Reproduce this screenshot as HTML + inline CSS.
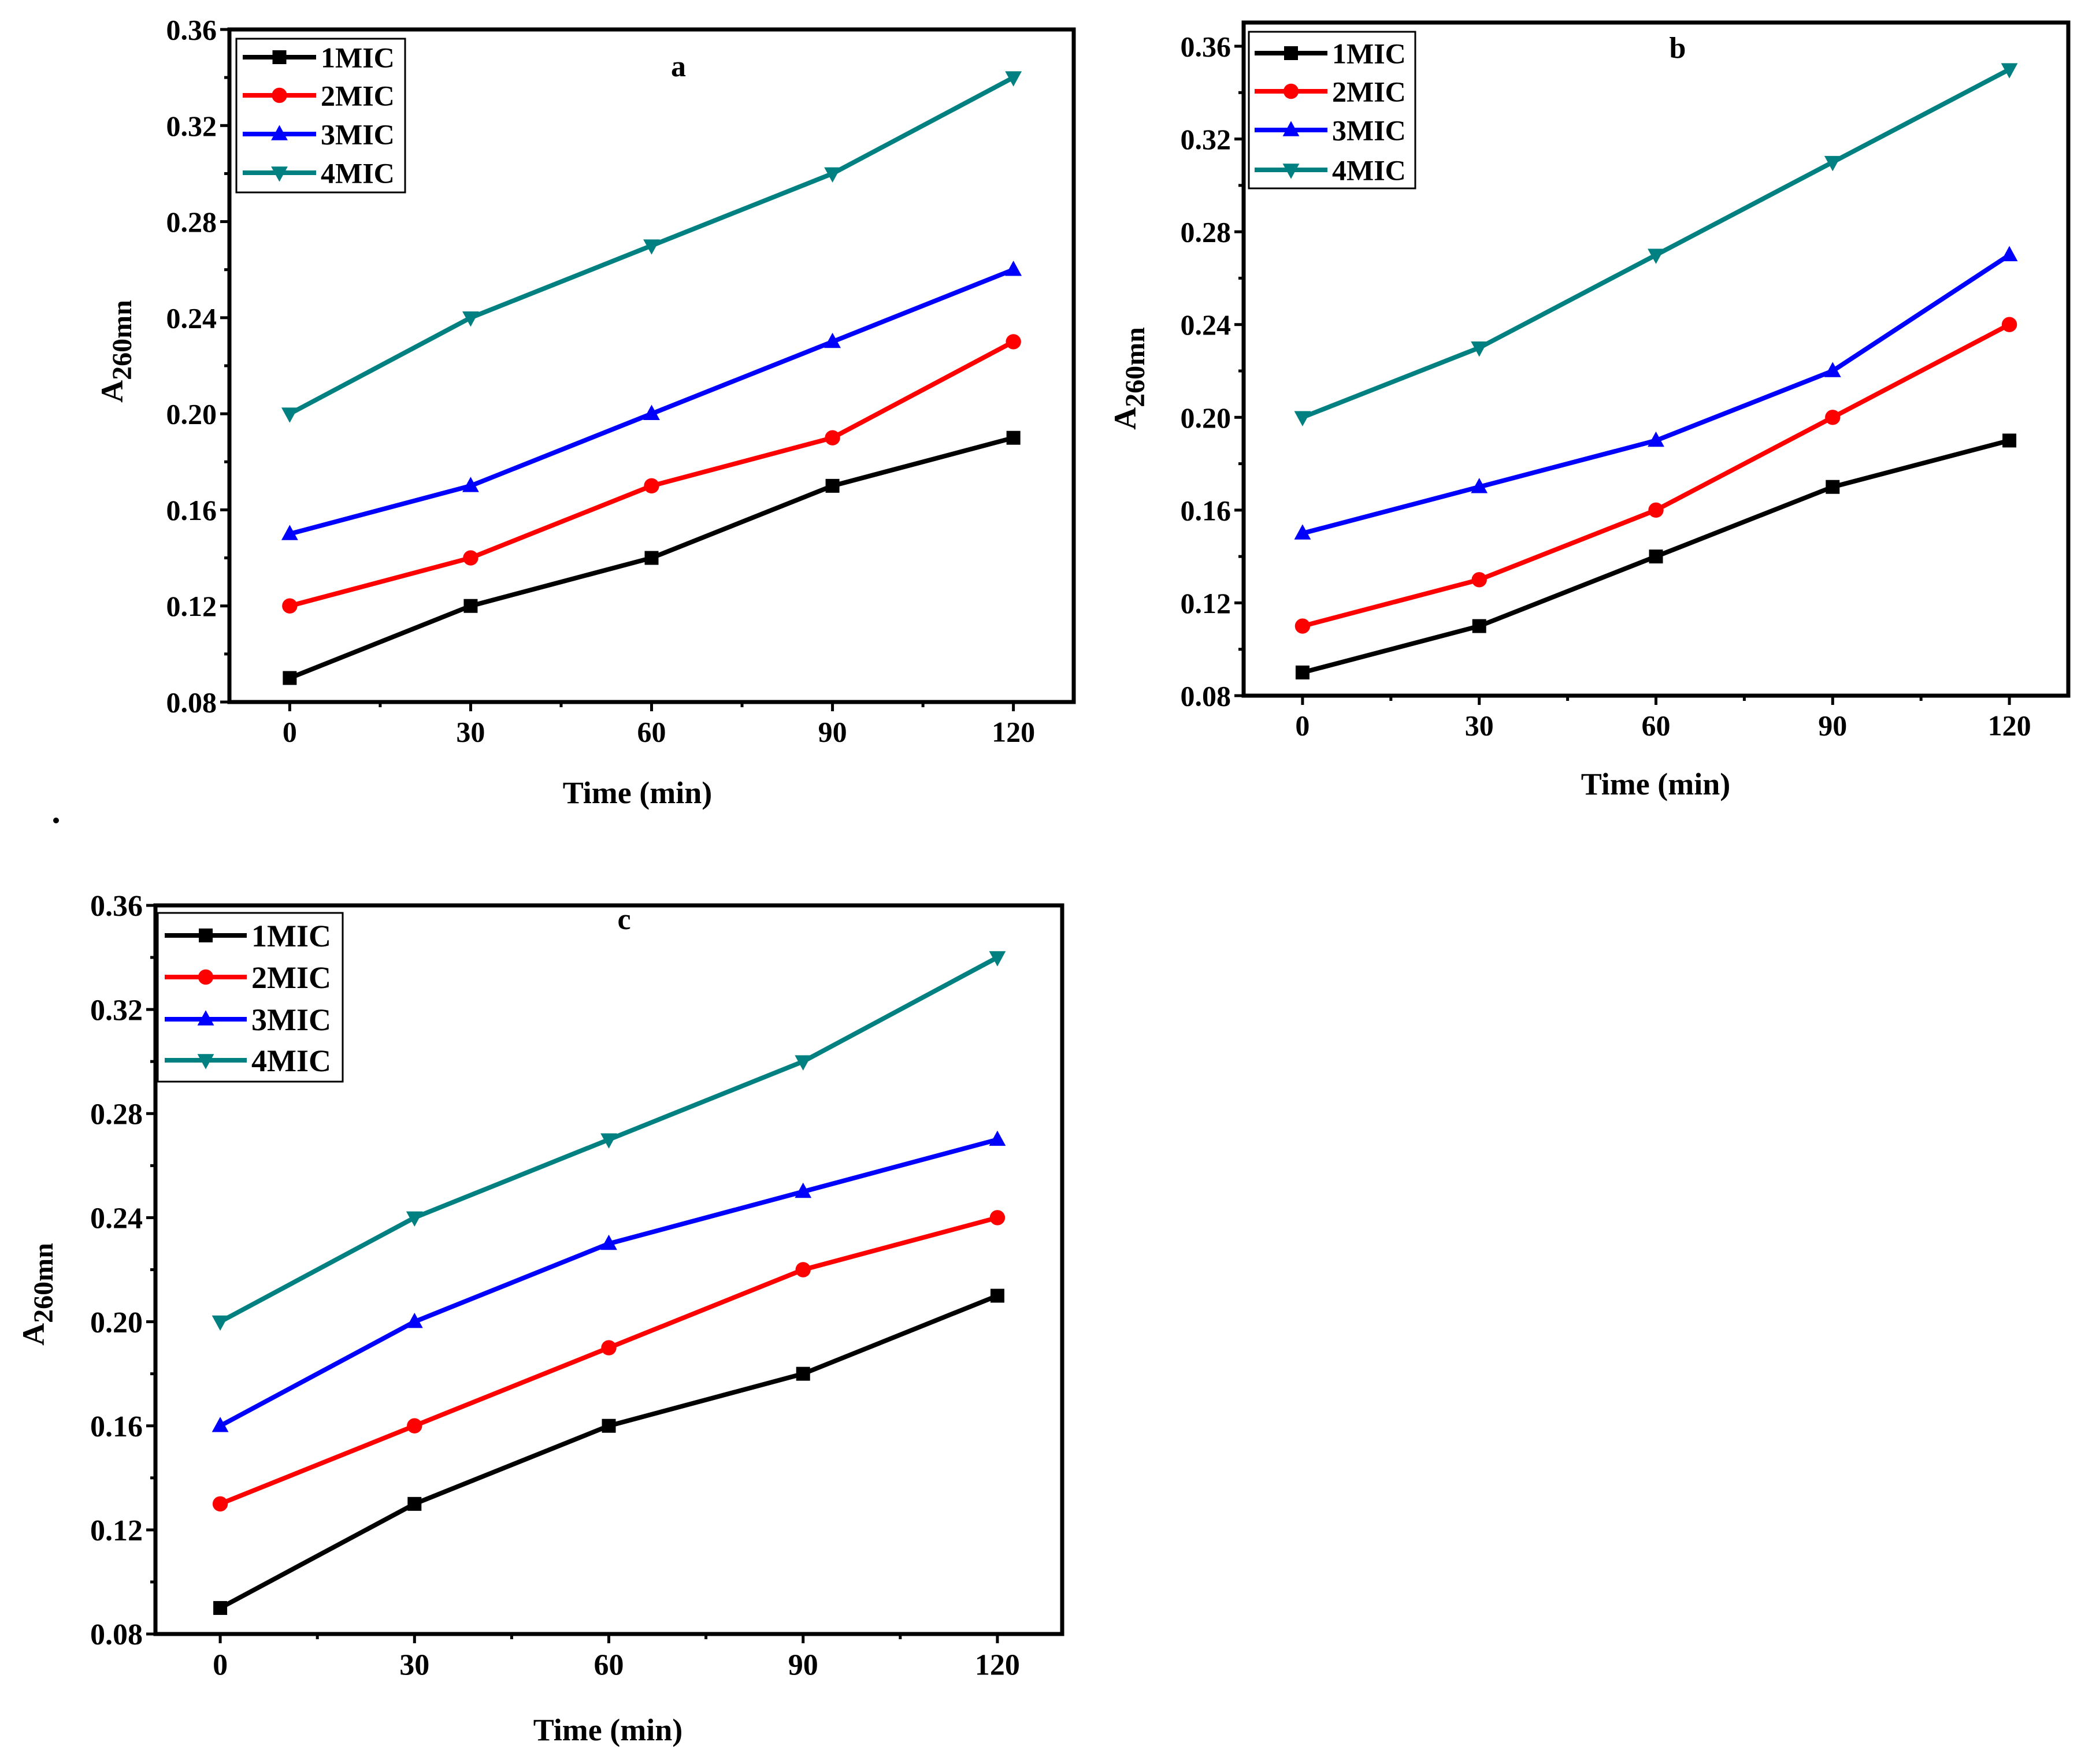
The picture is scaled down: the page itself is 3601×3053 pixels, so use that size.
<!DOCTYPE html>
<html><head><meta charset="utf-8"><style>
html,body{margin:0;padding:0;background:#fff;}
svg{display:block;font-family:"Liberation Serif",serif;font-weight:bold;}
</style></head><body>
<svg id="fig" width="3601" height="3053" viewBox="0 0 3601 3053" xmlns="http://www.w3.org/2000/svg">
<rect width="3601" height="3053" fill="#fff"/>
<circle cx="97" cy="1420" r="5" fill="#000"/>
</svg>
<script>
const times = [0, 30, 60, 90, 120];
const seriesNames = ["1MIC", "2MIC", "3MIC", "4MIC"];
const yTicks = [0.08, 0.12, 0.16, 0.20, 0.24, 0.28, 0.32, 0.36];
const yTickLabels = ["0.08", "0.12", "0.16", "0.20", "0.24", "0.28", "0.32", "0.36"];
const xTickLabels = ["0", "30", "60", "90", "120"];
const aMIC1 = [0.09, 0.12, 0.14, 0.17, 0.19];
const aMIC2 = [0.12, 0.14, 0.17, 0.19, 0.23];
const aMIC3 = [0.15, 0.17, 0.20, 0.23, 0.26];
const aMIC4 = [0.20, 0.24, 0.27, 0.30, 0.34];
const bMIC1 = [0.09, 0.11, 0.14, 0.17, 0.19];
const bMIC2 = [0.11, 0.13, 0.16, 0.20, 0.24];
const bMIC3 = [0.15, 0.17, 0.19, 0.22, 0.27];
const bMIC4 = [0.20, 0.23, 0.27, 0.31, 0.35];
const cMIC1 = [0.09, 0.13, 0.16, 0.18, 0.21];
const cMIC2 = [0.13, 0.16, 0.19, 0.22, 0.24];
const cMIC3 = [0.16, 0.20, 0.23, 0.25, 0.27];
const cMIC4 = [0.20, 0.24, 0.27, 0.30, 0.34];

const colors = ["#000000", "#ff0000", "#0000ff", "#008080"];
const NS = "http://www.w3.org/2000/svg";
const svg = document.getElementById("fig");
function mk(tag, attrs, parent) {
  const e = document.createElementNS(NS, tag);
  for (const k in attrs) e.setAttribute(k, attrs[k]);
  (parent || svg).appendChild(e);
  return e;
}
function marker(g, i, x, y, s) {
  let m;
  if (i === 0) m = mk("rect", {x: x - s, y: y - s, width: 2 * s, height: 2 * s, fill: colors[i]}, g);
  else if (i === 1) m = mk("circle", {cx: x, cy: y, r: s * 1.1, fill: colors[i]}, g);
  else if (i === 2) m = mk("polygon", {points: `${x},${y - s * 1.3} ${x - s * 1.2},${y + s * 0.9} ${x + s * 1.2},${y + s * 0.9}`, fill: colors[i]}, g);
  else m = mk("polygon", {points: `${x},${y + s * 1.3} ${x - s * 1.2},${y - s * 0.9} ${x + s * 1.2},${y - s * 0.9}`, fill: colors[i]}, g);
  
  
}
function panel(P) {
  const g = mk("g", {});
  
  
  const sx = t => P.L + (t - (-10)) / 140 * (P.R - P.L);
  const sy = v => P.B - (v - 0.08) / 0.28 * (P.B - P.YT);
  const tk = mk("g", {stroke: "#000", "stroke-width": 5}, g);
  
  
  yTicks.forEach((v, i) => {
    mk("line", {x1: P.L - 16, x2: P.L, y1: sy(v), y2: sy(v)}, tk);
    if (i < yTicks.length - 1) mk("line", {x1: P.L - 9, x2: P.L, y1: sy(v + 0.02), y2: sy(v + 0.02)}, tk);
    const t = mk("text", {x: P.L - 22, y: sy(v) + P.fs * 0.35, "text-anchor": "end", "font-size": P.fs, fill: "#000", stroke: "none"}, g);
    t.textContent = yTickLabels[i];
    
    
  });
  times.forEach((t0, i) => {
    mk("line", {x1: sx(t0), x2: sx(t0), y1: P.B, y2: P.B + 16}, tk);
    if (i < times.length - 1) mk("line", {x1: sx(t0 + 15), x2: sx(t0 + 15), y1: P.B, y2: P.B + 9}, tk);
    const t = mk("text", {x: sx(t0), y: P.B + 16 + P.fs * 1.05, "text-anchor": "middle", "font-size": P.fs, fill: "#000"}, g);
    t.textContent = xTickLabels[i];
    
    
  });
  P.data.forEach((arr, i) => {
    const sg = mk("g", {}, g);
    
    
    mk("polyline", {points: arr.map((v, j) => sx(times[j]) + "," + sy(v)).join(" "), fill: "none", stroke: colors[i], "stroke-width": 8, "stroke-linejoin": "round"}, sg);
    arr.forEach((v, j) => marker(sg, i, sx(times[j]), sy(v), 12));
  });
  const fr = mk("rect", {x: P.L, y: P.T, width: P.R - P.L, height: P.B - P.T, fill: "none", stroke: "#000", "stroke-width": 7}, g);
  
  
  const lg = mk("g", {}, g);
  
  
  mk("rect", {x: P.lg[0], y: P.lg[1], width: P.lg[2] - P.lg[0], height: P.lg[3] - P.lg[1], fill: "#fff", stroke: "#000", "stroke-width": 3}, lg);
  P.rows.forEach((ry, i) => {
    const le = mk("g", {}, lg);
    
    
    mk("line", {x1: P.ln[0], x2: P.ln[1], y1: ry, y2: ry, stroke: colors[i], "stroke-width": 8}, le);
    marker(le, i, (P.ln[0] + P.ln[1]) / 2, ry, 12);
    const t = mk("text", {x: P.ln[1] + 8, y: ry + P.lfs * 0.35, "font-size": P.lfs, fill: "#000"}, le);
    t.textContent = seriesNames[i];
  });
  const pl = mk("text", {x: P.lab[0], y: P.lab[1], "text-anchor": "middle", "font-size": 52, fill: "#000"}, g);
  pl.textContent = P.id;
  
  
  const xt = mk("text", {x: P.xt[0], y: P.xt[1], "text-anchor": "middle", "font-size": 54, fill: "#000"}, g);
  xt.textContent = "Time (min)";
  
  
  const yt = mk("text", {x: 0, y: 0, "text-anchor": "middle", "font-size": 54, fill: "#000", transform: `translate(${P.yt[0]},${P.yt[1]}) rotate(-90)`}, g);
  yt.innerHTML = 'A<tspan font-size="48" dy="15">260mn</tspan>';
  
  
}
panel({id: "a", L: 397, R: 1858, T: 51, YT: 51, B: 1215, fs: 50, lfs: 50, data: [aMIC1, aMIC2, aMIC3, aMIC4],
  lg: [409, 67, 701, 333], rows: [99, 165, 232, 299], ln: [420, 547], lab: [1174, 132], xt: [1103, 1390], yt: [212, 608]});
panel({id: "b", L: 2152, R: 3579, T: 39, YT: 80, B: 1204, fs: 50, lfs: 50, data: [bMIC1, bMIC2, bMIC3, bMIC4],
  lg: [2161, 55, 2449, 326], rows: [92, 158, 225, 294], ln: [2171, 2297], lab: [2903, 100], xt: [2865, 1375], yt: [1965, 655]});
panel({id: "c", L: 269, R: 1838, T: 1567, YT: 1567, B: 2828, fs: 52, lfs: 54, data: [cMIC1, cMIC2, cMIC3, cMIC4],
  lg: [273, 1580, 593, 1872], rows: [1619, 1691, 1764, 1835], ln: [285, 427], lab: [1080, 1608], xt: [1052, 3012], yt: [76, 2240]});
</script>
</body></html>
